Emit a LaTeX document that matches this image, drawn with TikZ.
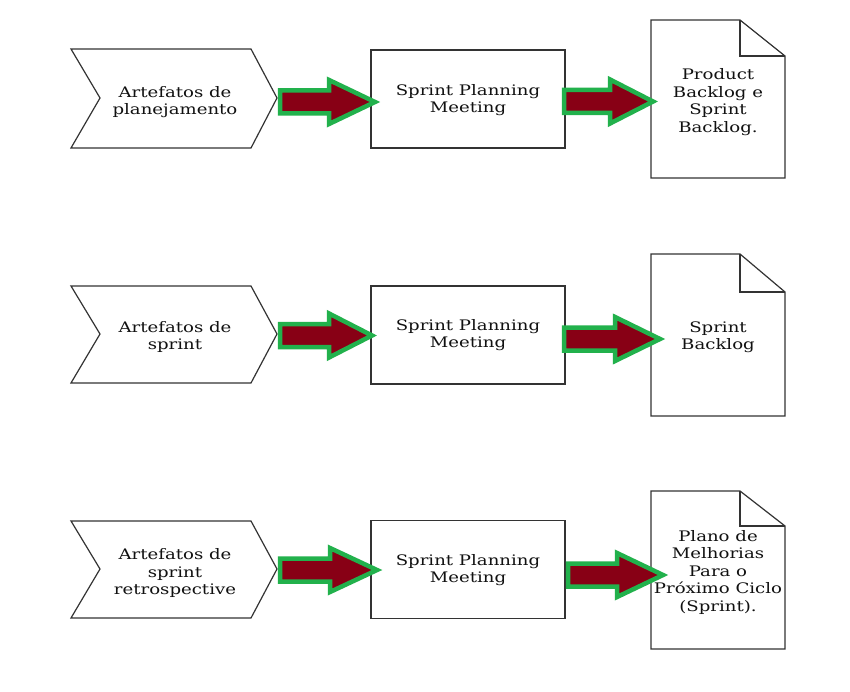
\documentclass[tikz,border=0pt]{standalone}
\usepackage{fontspec}
\setmainfont[FakeStretch=1.25]{DejaVu Serif}
\usetikzlibrary{calc}
\definecolor{arrfill}{HTML}{880015}
\definecolor{arrline}{HTML}{22B14C}
\definecolor{boxline}{HTML}{333333}
\definecolor{txtcol}{HTML}{111111}
\tikzset{
  shapeline/.style={draw=boxline, line width=1.2pt, fill=white},
  txt/.style={align=center, inner sep=0pt, text=txtcol, font=\fontsize{14.5}{17.5}\selectfont},
  rectbox/.style={shapeline, minimum width=194pt, minimum height=98pt, inner sep=0pt, outer sep=0pt},
  barrow/.style={fill=arrfill, draw=arrline, line width=4.5pt, line join=miter},
}
\newcommand\myarrow[3]{%
  \draw[barrow] ($(#1)+(0,-11.5)$) -- ($(#1)+(#2,-11.5)$) -- ($(#1)+(#2,-22)$) -- ($(#1)+(#3,0)$)
    -- ($(#1)+(#2,22)$) -- ($(#1)+(#2,11.5)$) -- ($(#1)+(0,11.5)$) -- cycle;}
\begin{document}
\begin{tikzpicture}[x=1pt, y=-1pt]
\useasboundingbox (0,0) rectangle (850,692);
\fill[white] (0,0) rectangle (850,692);

% ---------- Row 1 ----------
\draw[shapeline] (71,49) -- (251,49) -- (277,98) -- (251,148) -- (71,148) -- (100,98) -- cycle;
\node[txt] (c1) at (175,102) {Artefatos de\\planejamento};
\node[rectbox] (r1) at (468,99) {};
\node[txt] (r1t) at (468,100) {Sprint Planning\\Meeting};
\draw[shapeline] (651,20) -- (740,20) -- (785,56) -- (785,178) -- (651,178) -- cycle;
\draw[shapeline, fill=none] (740,20) -- (740,56) -- (785,56);
\node[txt] (d1) at (718,102) {Product\\Backlog e\\Sprint\\Backlog.};
\coordinate (a11) at (280,102);
\coordinate (a12) at (564,101.5);
\myarrow{a11}{49}{95}
\myarrow{a12}{46}{89}

% ---------- Row 2 ----------
\draw[shapeline] (71,286) -- (251,286) -- (277,334) -- (251,383) -- (71,383) -- (100,334) -- cycle;
\node[txt] (c2) at (175,337) {Artefatos de\\sprint};
\node[rectbox] (r2) at (468,335) {};
\node[txt] (r2t) at (468,335) {Sprint Planning\\Meeting};
\draw[shapeline] (651,254) -- (740,254) -- (785,292) -- (785,416) -- (651,416) -- cycle;
\draw[shapeline, fill=none] (740,254) -- (740,292) -- (785,292);
\node[txt] (d2) at (718,337) {Sprint\\Backlog};
\coordinate (a21) at (280,335.5);
\coordinate (a22) at (564,339);
\myarrow{a21}{49}{92}
\myarrow{a22}{51}{96}

% ---------- Row 3 ----------
\draw[shapeline] (71,521) -- (251,521) -- (277,569) -- (251,618) -- (71,618) -- (100,569) -- cycle;
\node[txt] (c3) at (175,573) {Artefatos de\\sprint\\retrospective};
\node[rectbox] (r3) at (468,569.5) {};
\node[txt] (r3t) at (468,570) {Sprint Planning\\Meeting};
\draw[shapeline] (651,491) -- (740,491) -- (785,526) -- (785,649) -- (651,649) -- cycle;
\draw[shapeline, fill=none] (740,491) -- (740,526) -- (785,526);
\node[txt] (d3) at (718,572) {Plano de\\Melhorias\\Para o\\Próximo Ciclo\\(Sprint).};
\coordinate (a31) at (280,570);
\coordinate (a32) at (568,575);
\myarrow{a31}{50}{97}
\myarrow{a32}{49}{95}
\end{tikzpicture}
\end{document}
